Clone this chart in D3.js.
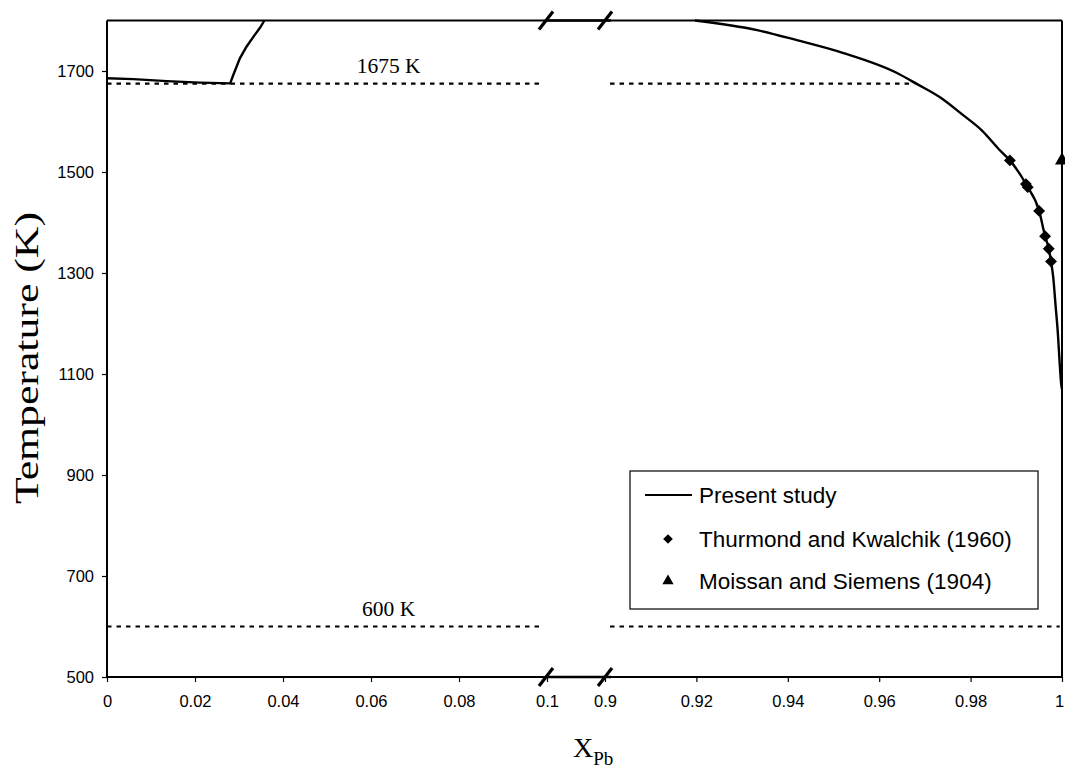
<!DOCTYPE html>
<html>
<head>
<meta charset="utf-8">
<script src="https://cdn.jsdelivr.net/npm/d3@7"></script>
<style>
  html, body { margin: 0; padding: 0; background: #fff; }
  svg { display: block; }
</style>
</head>
<body>
<svg id="chart" width="1065" height="771"></svg>
<script>
// Axis ticks (the x axis is broken between 0.1 and 0.9)
const xLeftTicks = [0, 0.02, 0.04, 0.06, 0.08, 0.1];
const xRightTicks = [0.9, 0.92, 0.94, 0.96, 0.98, 1];
const yTicks = [500, 700, 900, 1100, 1300, 1500, 1700];

// Calculated liquidus, Si-rich side (X_Pb, T in K)
const liqLeftX = [0, 0.006, 0.0136, 0.0211, 0.028, 0.0287, 0.0302, 0.0317, 0.0333, 0.0348, 0.0355, 0.0357];
const liqLeftT = [1685.5, 1684, 1680, 1677, 1675.5, 1692, 1725, 1748, 1768, 1786, 1796, 1800];

// Calculated liquidus, Pb-rich side
const liqRightX = [0.9197, 0.9333, 0.942, 0.952, 0.9639, 0.9683, 0.9733, 0.9783, 0.9825, 0.9864, 0.9886, 0.9923, 0.995, 0.9963, 0.9971, 0.9976, 0.9981, 0.9986, 0.9991, 0.9995, 0.99985, 1.0];
const liqRightT = [1800, 1781, 1761, 1736, 1696, 1674, 1648, 1613, 1582, 1543, 1523, 1473, 1423, 1373, 1348, 1323, 1290, 1235, 1180, 1120, 1078, 1070];

// Experimental points
const thurmondX = [0.9886, 0.9921, 0.9925, 0.995, 0.9963, 0.9971, 0.9976];
const thurmondT = [1523, 1476, 1470, 1423, 1373, 1348, 1323];
const moissanX = [1.0];
const moissanT = [1523];

// Invariant temperatures (dotted lines) and their extents on each side
const isoT = [1675, 600];
const isoLabels = ["1675 K", "600 K"];
const isoLeftEnd = [0.0986, 0.0986];
const isoRightStart = [0.9011, 0.9011];
const isoRightEnd = [0.9675, 0.9995];

const legendLabels = ["Present study", "Thurmond and Kwalchik (1960)", "Moissan and Siemens (1904)"];

const serif = "'Liberation Serif', 'Times New Roman', serif";
const sans = "'Liberation Sans', Arial, sans-serif";

const svg = d3.select("#chart");

const xL = d3.scaleLinear().domain([0, 0.1]).range([107, 547]);
const xR = d3.scaleLinear().domain([0.9, 1]).range([605, 1062]);
const y = d3.scaleLinear().domain([500, 1800]).range([677, 20.5]);

// Frame: left axis, right edge, top and bottom lines
const frame = svg.append("g").attr("stroke", "#000").attr("fill", "none");
frame.append("line").attr("x1", xL(0)).attr("x2", xL(0)).attr("y1", y(1800)).attr("y2", y(500)).attr("stroke-width", 2);
frame.append("line").attr("x1", xR(1)).attr("x2", xR(1)).attr("y1", y(1800)).attr("y2", y(500)).attr("stroke-width", 2);
frame.append("line").attr("x1", xL(0)).attr("x2", xR(1)).attr("y1", y(1800)).attr("y2", y(1800)).attr("stroke-width", 2);
frame.append("line").attr("x1", xL(0)).attr("x2", xR(1)).attr("y1", y(500)).attr("y2", y(500)).attr("stroke-width", 2);
// slightly heavier segment between the break marks
[y(1800), y(500)].forEach(yy => {
  frame.append("line").attr("x1", xL(0.1) - 2).attr("x2", xR(0.9) + 6).attr("y1", yy).attr("y2", yy).attr("stroke-width", 2.6);
});

// Y axis
const yAxis = d3.axisLeft(y).tickValues(yTicks).tickSize(5).tickPadding(8).tickFormat(d3.format("d"));
const gy = svg.append("g").attr("transform", `translate(${xL(0)},0)`).call(yAxis);
gy.select(".domain").remove();
gy.selectAll("line").attr("stroke-width", 1.2);
gy.selectAll("text").attr("font-family", sans).attr("font-size", 16.5).attr("fill", "#000");

// X axes (two pieces)
function xAxisPiece(scale, ticks, fmt) {
  const ax = d3.axisBottom(scale).tickValues(ticks).tickSize(5).tickPadding(13).tickFormat(fmt);
  const g = svg.append("g").attr("transform", `translate(0,${y(500)})`).call(ax);
  g.select(".domain").remove();
  g.selectAll("line").attr("stroke-width", 1.2);
  g.selectAll("text").attr("font-family", sans).attr("font-size", 16.5).attr("fill", "#000")
    .attr("dx", d => d === 1 ? -3 : 0);
  return g;
}
const fmtTick = d => (d === 0 || d === 1) ? String(d) : String(+d.toFixed(2));
xAxisPiece(xL, xLeftTicks, fmtTick);
xAxisPiece(xR, xRightTicks, fmtTick);

// Break marks on top and bottom lines
const breaks = [xL(0.1) - 1, xR(0.9)];
[y(1800), y(500)].forEach(yy => {
  breaks.forEach(bx => {
    svg.append("line")
      .attr("x1", bx - 7).attr("y1", yy + 9)
      .attr("x2", bx + 7).attr("y2", yy - 9)
      .attr("stroke", "#000").attr("stroke-width", 3.2);
  });
});

// Dotted invariant lines
const dots = svg.append("g").attr("stroke", "#000").attr("stroke-width", 2.2).attr("stroke-dasharray", "4.5,5");
isoT.forEach((t, i) => {
  dots.append("line").attr("x1", xL(0)).attr("x2", xL(isoLeftEnd[i])).attr("y1", y(t)).attr("y2", y(t));
  dots.append("line").attr("x1", xR(isoRightStart[i])).attr("x2", xR(isoRightEnd[i])).attr("y1", y(t)).attr("y2", y(t));
  svg.append("text")
    .attr("x", xL(0.064)).attr("y", y(t) - 11)
    .attr("text-anchor", "middle")
    .attr("font-family", serif).attr("font-size", 21.5).attr("fill", "#000")
    .text(isoLabels[i]);
});

// Liquidus curves
const lineL = d3.line().x((d, i) => xL(liqLeftX[i])).y((d, i) => y(liqLeftT[i]));
const lineR = d3.line().x((d, i) => xR(liqRightX[i])).y((d, i) => y(liqRightT[i])).curve(d3.curveMonotoneX);
svg.append("path").datum(liqLeftT).attr("d", lineL).attr("fill", "none").attr("stroke", "#000").attr("stroke-width", 2.4);
svg.append("path").datum(liqRightT).attr("d", lineR).attr("fill", "none").attr("stroke", "#000").attr("stroke-width", 2.4);

// Markers
const diamond = d3.symbol().type(d3.symbolDiamond2).size(90);
const triangle = d3.symbol().type(d3.symbolTriangle).size(85);
svg.append("g").selectAll("path").data(thurmondT).join("path")
  .attr("transform", (d, i) => `translate(${xR(thurmondX[i])},${y(d)})`)
  .attr("d", diamond).attr("fill", "#000");
svg.append("g").selectAll("path").data(moissanT).join("path")
  .attr("transform", (d, i) => `translate(${xR(moissanX[i])},${y(d)})`)
  .attr("d", triangle).attr("fill", "#000");

// Legend
const lg = svg.append("g").attr("transform", "translate(630,471)");
lg.append("rect").attr("width", 408).attr("height", 138).attr("fill", "#fff").attr("stroke", "#000").attr("stroke-width", 1.2);
const rowY = [24, 68, 110];
lg.append("line").attr("x1", 15).attr("x2", 62).attr("y1", rowY[0]).attr("y2", rowY[0]).attr("stroke", "#000").attr("stroke-width", 2);
lg.append("path").attr("transform", `translate(38,${rowY[1]})`).attr("d", d3.symbol().type(d3.symbolDiamond2).size(60)).attr("fill", "#000");
lg.append("path").attr("transform", `translate(38,${rowY[2]})`).attr("d", d3.symbol().type(d3.symbolTriangle).size(55)).attr("fill", "#000");
lg.selectAll("text.lbl").data(legendLabels).join("text")
  .attr("class", "lbl")
  .attr("x", 69).attr("y", (d, i) => rowY[i] + 8)
  .attr("font-family", sans).attr("font-size", 22.5).attr("fill", "#000")
  .text(d => d);

// Axis titles
svg.append("text")
  .attr("transform", "translate(38,358) rotate(-90)")
  .attr("text-anchor", "middle")
  .attr("font-family", serif).attr("font-size", 34).attr("fill", "#000")
  .attr("textLength", 292).attr("lengthAdjust", "spacingAndGlyphs")
  .text("Temperature (K)");

const xt = svg.append("text")
  .attr("x", 573).attr("y", 757)
  .attr("font-family", serif).attr("font-size", 28).attr("fill", "#000");
xt.append("tspan").text("X");
xt.append("tspan").attr("font-size", 19).attr("dy", 8).text("Pb");
</script>
</body>
</html>
